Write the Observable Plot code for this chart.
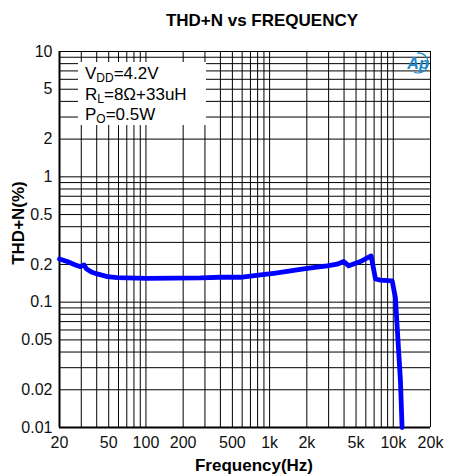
<!DOCTYPE html>
<html><head><meta charset="utf-8">
<script src="https://cdn.jsdelivr.net/npm/d3@7"></script>
<script src="https://cdn.jsdelivr.net/npm/@observablehq/plot@0.6"></script>
<style>body{margin:0;background:#fff} svg{display:block}</style>
</head><body><div id="chart"></div>
<script>
// Curve (frequency in Hz, THD+N in %)
const freqHz = [20, 23.1, 26.9, 29.6, 31.6, 33.1, 36.7, 40.3, 48.8, 58.6, 102, 276, 400, 581, 843, 1081, 1387, 2010, 2917, 3516, 3975, 4365, 5420, 6620, 7180, 7870, 9790, 10400, 11430, 11780];
const thdPct = [0.221, 0.211, 0.198, 0.192, 0.198, 0.184, 0.173, 0.168, 0.160, 0.157, 0.155, 0.156, 0.158, 0.158, 0.165, 0.170, 0.176, 0.186, 0.195, 0.201, 0.211, 0.195, 0.211, 0.234, 0.153, 0.150, 0.148, 0.109, 0.0236, 0.01];

const xTickValues = [20, 50, 100, 200, 500, 1000, 2000, 5000, 10000, 20000];
const xTickLabels = ["20", "50", "100", "200", "500", "1k", "2k", "5k", "10k", "20k"];
const yTickValues = [0.01, 0.02, 0.05, 0.1, 0.2, 0.5, 1, 2, 5, 10];
const yTickLabels = ["0.01", "0.02", "0.05", "0.1", "0.2", "0.5", "1", "2", "5", "10"];
const legendLines = [["V", "DD", "=4.2V"], ["R", "L", "=8Ω+33uH"], ["P", "O", "=0.5W"]];
const titleText = "THD+N vs FREQUENCY";
const xLabel = "Frequency(Hz)";
const yLabel = "THD+N(%)";

// 1-2-...-9 grid lines per decade
const xGrid = [];
for (const d of [10, 100, 1000, 10000]) for (let m = 1; m <= 9; m++) { const v = m * d; if (v >= 20 && v <= 20000) xGrid.push(v); }
xGrid.push(20000);
const yGrid = [];
for (const d of [0.01, 0.1, 1]) for (let m = 1; m <= 9; m++) yGrid.push(+(m * d).toPrecision(3));
yGrid.push(10);

const data = freqHz.map((f, i) => ({f, v: thdPct[i]}));
const xTicks = xTickValues.map((v, i) => ({v, label: xTickLabels[i]}));
const yTicks = yTickValues.map((v, i) => ({v, label: yTickLabels[i]}));
const FONT = "'Liberation Sans', Arial, Helvetica, sans-serif";

const plot = Plot.plot({
  width: 450, height: 475,
  marginLeft: 59, marginRight: 20, marginTop: 51, marginBottom: 48,
  style: {fontFamily: FONT, fontSize: "16px", background: "#fff", color: "#000", overflow: "visible"},
  x: {type: "log", domain: [20, 20000], axis: null},
  y: {type: "log", domain: [0.01, 10], axis: null},
  marks: [
    Plot.ruleX(xGrid, {stroke: "#000", strokeWidth: 1}),
    Plot.ruleY(yGrid, {stroke: "#000", strokeWidth: 1}),
    Plot.ruleX([20], {stroke: "#000", strokeWidth: 2}),
    Plot.ruleY([0.01], {stroke: "#000", strokeWidth: 2}),
    Plot.text(xTicks, {x: "v", text: "label", frameAnchor: "bottom", lineAnchor: "top", dy: 9, fill: "#111", fontSize: 16}),
    Plot.text(yTicks, {y: "v", text: "label", frameAnchor: "left", textAnchor: "end", dx: -7, fill: "#111", fontSize: 16}),
    Plot.line(data, {x: "f", y: "v", stroke: "#0000ff", strokeWidth: 4.8, strokeLinejoin: "round", strokeLinecap: "round"})
  ]
});

const svg = d3.select(plot);
// Condition box
const box = svg.append("g").attr("text-anchor", "start");
box.append("rect").attr("x", 78).attr("y", 62).attr("width", 128).attr("height", 63).attr("fill", "#fff");
const baselines = [79, 100, 120];
legendLines.forEach((parts, i) => {
  const t = box.append("text").attr("x", 85).attr("y", baselines[i]).attr("text-anchor", "start")
    .attr("font-family", FONT).attr("font-size", 17).attr("fill", "#000");
  t.append("tspan").text(parts[0]);
  t.append("tspan").attr("font-size", 12).attr("dy", 3).text(parts[1]);
  t.append("tspan").attr("dy", -3).text(parts[2]);
});
// Title and axis labels
svg.append("text").attr("x", 262).attr("y", 26).attr("text-anchor", "middle")
  .attr("font-family", FONT).attr("font-weight", "bold").attr("font-size", 17).text(titleText);
svg.append("text").attr("x", 254).attr("y", 471).attr("text-anchor", "middle")
  .attr("font-family", FONT).attr("font-weight", "bold").attr("font-size", 17).text(xLabel);
svg.append("text").attr("transform", "translate(24,223) rotate(-90)").attr("text-anchor", "middle")
  .attr("font-family", FONT).attr("font-weight", "bold").attr("font-size", 17).text(yLabel);
// Logo
const logo = svg.append("g");
logo.append("path").attr("d", "M417 53 A10 10 0 1 1 414 72").attr("fill", "none").attr("stroke", "#1e88c8").attr("stroke-width", 1.2);
logo.append("text").attr("x", 418).attr("y", 69).attr("text-anchor", "middle")
  .attr("font-family", FONT).attr("font-style", "italic").attr("font-weight", "bold").attr("font-size", 16).attr("fill", "#1e88c8").text("Ap");

document.getElementById("chart").appendChild(plot);
</script>
</body></html>
